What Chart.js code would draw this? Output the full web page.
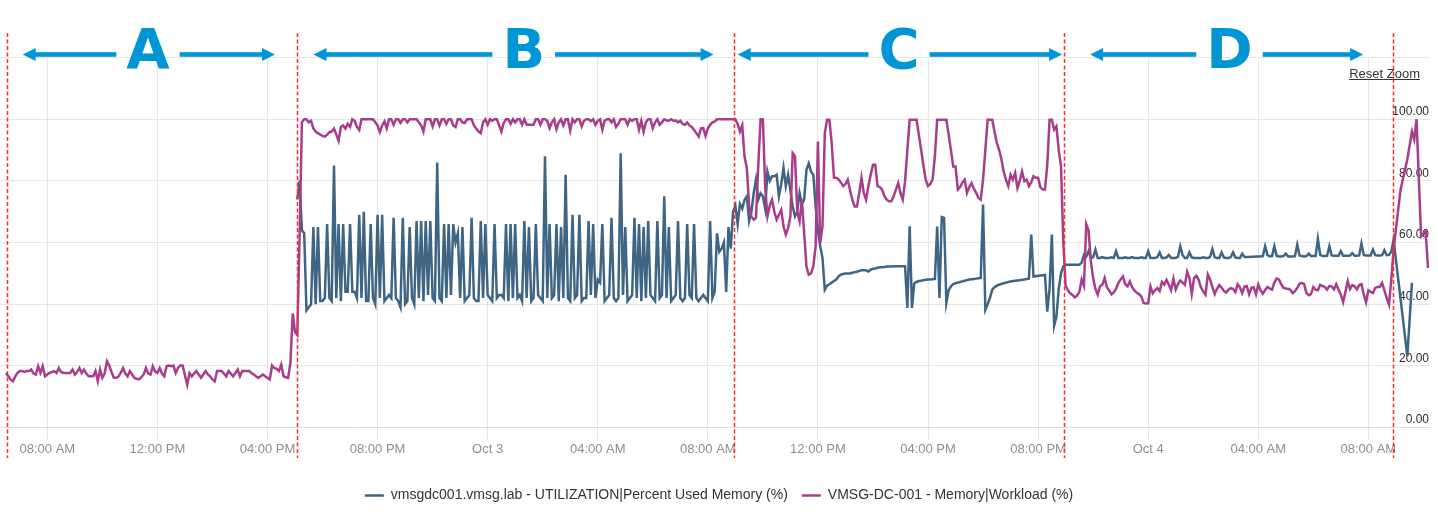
<!DOCTYPE html>
<html>
<head>
<meta charset="utf-8">
<script src="https://cdn.jsdelivr.net/npm/chart.js@4.4.1/dist/chart.umd.min.js"></script>
<style>
  html, body { margin: 0; padding: 0; background: #ffffff; }
  #wrap { width: 1438px; height: 515px; position: relative; }
</style>
</head>
<body>
<div id="wrap"><canvas id="c" width="1438" height="515"></canvas></div>
<script>
// ---------- time grid (hours since Oct 2, 00:00), 5-minute samples ----------
const STEP_H = 5 / 60;

// x-axis ticks
const tickHours  = [8, 12, 16, 20, 24, 28, 32, 36, 40, 44, 48, 52, 56];
const tickLabels = ['08:00 AM', '12:00 PM', '04:00 PM', '08:00 PM', 'Oct 3', '04:00 AM', '08:00 AM',
                    '12:00 PM', '04:00 PM', '08:00 PM', 'Oct 4', '04:00 AM', '08:00 AM'];
const yTicks = [0, 20, 40, 60, 80, 100, 120];

// section annotations (hours)
const sectionLetters  = ['A', 'B', 'C', 'D'];
const sectionBounds   = [6.525, 17.055, 32.953, 44.944, 56.91];
const arrowLeftTips   = [7.106, 17.669, 33.084, 45.889];
const arrowRightTips  = [16.274, 32.208, 44.871, 55.81];
const letterCenters   = [11.659, 25.311, 38.948, 50.954];

// ---------- VMSG-DC-001 - Memory|Workload (%) ----------
const memAStart = 6.5;             // Oct 2 06:30
const memA = [
17.7,16.6,15.6,15.0,16.5,17.7,18.3,18.3,18.0,18.3,
18.3,18.8,17.5,17.2,19.9,17.7,19.9,16.6,17.2,17.7,
18.0,18.3,17.7,19.3,18.0,17.7,17.7,17.7,17.7,18.8,
17.2,18.0,19.3,17.7,18.8,17.5,16.6,16.6,16.6,18.3,
15.0,18.8,16.1,17.5,21.5,20.1,18.0,16.1,16.1,16.5,
17.7,19.3,17.5,16.6,18.3,17.2,16.1,15.8,15.6,16.3,
17.2,19.3,17.5,17.2,19.9,18.2,17.7,19.3,17.5,16.6,
19.9,20.1,19.9,20.1,17.7,19.3,20.1,20.1,17.0,13.9,
17.7,16.6,17.5,18.3,17.2,16.1,17.2,18.3,17.2,16.6,
15.6,15.0,18.3,18.3,18.3,17.5,16.6,18.3,17.5,16.6,
17.7,18.8,16.6,18.3,18.3,18.3,18.3,17.7,17.2,16.6,
16.1,16.6,17.2,16.6,16.1,15.6,20.1,19.3,19.0,18.3,
20.4,16.6,16.3,16.1,21.0,37.0,31.0];

const memBStart = 17 + 5 / 60;     // Oct 2 17:05
const memB = [
30,62,99,100,100,99,99.5,97,96,95.5,
95,94.6,94.4,95,95.8,96,97,95,93,97.5,
98,97,98.5,97.5,100,99.5,97.5,96.5,100,100,
100,100,100,100,99,98,95.8,98,99.3,97,
100,100,98.2,100,100,98.8,100,100,99,100,
100,100,100,99,98,96,100,100,100,97.7,
100,100,98,100,100,98.5,100,100,98,97.5,
100,100,99,98.8,100,100,100,98,97,96,
95.5,99,100,98.2,100,99.5,100,100,98,96,
98.8,100,100,98.5,100,99,100,100,98.2,100,
98.2,98.2,98.2,98.2,100,100,98.2,100,100,99.5,
97.1,99,100,96.8,99,100,98,100,100,96.3,
100,99,100,100,97.7,99.5,100,100,99.4,100,
98.2,99.5,100,96.6,99.5,100,100,99,100,97.5,
98.5,100,100,100,98.2,100,99.5,100,100,96.6,
99.5,95.9,99,100,100,97.1,99,100,98.2,99,
100,99.6,99.5,100,99.5,99.6,99,99.5,98.5,98.2,
99,98,97.5,96.5,95.5,94.4,97,97.1,94.6,97,
98.2,99,99.3,100,100,100,100,100,100,100,
100];

const memCStart = 33;              // Oct 3 09:00
const memC = [
100,98.5,96,98,87.9,84.2,72,68.5,67.4,68,
85,100,100,78,68.5,72,73.9,70,67.4,69,
70.6,65.3,62.6,64.7,68.5,89,88,70,66.9,73.9,
63.1,52.3,49.6,50,52.3,58.8,92.8,59.9,65.3,95.5,
99.8,99.8,92.3,81,81,80.5,79.5,78.3,79,80.4,
77,73.9,71.7,71.7,76,81,76,73.9,78.3,82,
85.2,85.2,78.3,78,77.2,75,73.9,73.4,73.4,75,
77.2,79.3,76,73.9,79.9,90,99.8,99.8,99.8,99.8,
95,90.1,85,80.4,78.3,79,80.4,88,99.8,99.8,
99.8,99.8,99.8,95,90,84.7,84.7,77.2,78,79.5,
80.4,76.1,78,79.3,77.5,76.1,74.5,73.9,80.4,90,
99.8,99.8,99.8,96,92.3,90.1,87,83,80.4,78.3,
82,80.4,82.6,77.7,80,83.1,79.9,80.4,78.3,79.5,
81.5,81,81,78,77.2,77.2,85.2,99.8,99.8,96.6,
97.7,90,84.7,60];

const memDStart = 45;              // Oct 3 21:00
const memD = [
46,44.5,43.5,43,42.2,42.8,44,48,46,66,
64,54,48.5,45,43.1,45.8,46.3,48.5,45.5,44.5,
43.2,43.8,45,46.9,48,49,46.5,45.8,47.4,45.5,
44.5,43.7,43.3,42.5,40.4,40.2,40.3,45.8,43.5,44.5,
45.2,44.3,47.2,46.3,47.9,46.3,44.6,48.3,44.8,46.5,
47.7,47,46.3,50.5,48.5,43.3,48.5,49.2,47.9,45.5,
44.2,43.1,49.6,48,45.5,43.3,45,46.2,45.4,44.3,
43.8,44.7,45.2,45,43.9,46.5,45.5,43.6,45.7,45.9,
43.2,45.3,45.5,43.2,46.4,44.5,43.4,44.6,45.6,45.1,
44.7,47,48.3,48,46.5,45.3,45.1,45,44.7,43.6,
44.2,45.3,46.6,46.9,46.5,43.6,42.9,43.3,45.6,44.7,
44.5,46.3,45.9,45.6,44.7,45.9,45.8,44.8,46.5,44.8,
43.1,40.7,44,47.5,44.9,46.2,45.8,44.8,46.2,46.5,
43.1,40.6,44.5,44,43.6,45.3,45.6,45.6,46.9,44.5,
42,39.9,48];

const memEStart = 56 + 55 / 60;    // Oct 4 08:55
const memE = [57.7,null,null,77,null,null,87,null,96,93.4,100,null,62,null,63.6,51.8];

// ---------- vmsgdc001.vmsg.lab - UTILIZATION|Percent Used Memory (%) ----------
const utilBStart = 17 + 5 / 60;    // Oct 2 17:05
const utilB = [
74,80,64,63,38,39,40,65,40,65,
41,41,42,66,42,41,85,42,66,41,
66,44,44,66,44,44,42,69,42,70,
41,41,66,42,40,69,42,69,41,42,
43,42,68,42,41,39,68,40,41,65,
42,40,67,42,67,41,67,43,67,42,
41,86,42,41,66,42,66,43,66,60,
63,42,65,41,42,43,68,42,41,41,
67,42,66,43,42,41,66,42,43,43,
42,66,41,66,42,66,42,43,41,67,
42,65,41,42,66,43,42,41,88,42,
66,42,43,66,41,65,42,82,42,41,
69,42,43,69,41,42,42,67,43,66,
42,48,47,66,41,42,43,68,42,41,
42,89,43,65,41,42,43,68,42,66,
41,65,42,67,43,42,41,67,42,43,
75,42,65,41,42,43,67,42,41,42,
66,43,42,66,42,41,42,43,42,41,
67,42,44,63,57,58,60,44,65,58,
70];

const utilCStart = 33;             // Oct 3 09:00
const utilC = [
72,66,72.5,71,73.9,75,67,70,76,80.4,
74,76,75,71,83,80,81.5,81.5,82,75,
79,84.2,78.3,82,77,71.7,68.5,70,76.1,72.5,
73.9,83.6,85.7,83,82,71.7,64,58.8,55,44.7,
46,46.5,47,47.5,48,49,49.6,49.8,50,50,
50,50.2,50.4,50.5,50.8,51,51,51,50.6,51.2,
51.5,51.6,51.8,52,52,52.1,52.2,52.2,52.2,52.3,
52.3,52.3,52.3,52.3,52.3,38.8,65.3,38.8,46.8,47.2,
47.5,47.6,47.8,47.9,48,48,48.1,48.2,65.2,42,
68.3,68,40.4,44.5,45.8,46.5,46.8,47,47.2,47.4,
47.6,47.8,48,48.1,48.2,48.3,48.4,48.5,72.3,38.2,
40,42,44.7,45.5,46,46.3,46.6,46.8,47,47.2,
47.4,47.5,47.6,47.7,47.8,47.9,48,48.2,48.3,62.6,
49,49.1,49.2,49.3,49.4,49.5,37.6,45,62.6,33,
36,45,50,52.3];

const utilDStart = 45;             // Oct 3 21:00
const utilD = [
52.8,52.8,52.8,52.8,52.8,52.8,52.8,53.5,56.1,55.5,
57.2,55,55.2,57.7,55,55,55.3,55,55,55,
55.2,55,57.2,55,55,55,55.2,55,55,55.3,
55,55,55,55.2,55,55,57.2,55,55,55,
55.3,56.8,55,55,55.2,56,55,55,55,55.4,
58.8,56,55,55,56.8,55.2,55,55,55,55,
55.2,55,55,55.3,57.9,55.2,55,55,56.8,55.2,
55,55,55.3,56.8,55.2,55,55,56.4,55.3,55.3,
55.3,55.4,55.4,55.5,55.5,55.5,55.6,58.8,56,55.5,
55.6,58.8,55.7,55.5,55.5,55.6,56.4,55.5,55.5,55.5,
55.6,59.3,55.8,55.6,55.5,55.6,56.4,55.6,55.6,55.6,
61.2,56,55.6,55.6,55.7,58.8,55.8,55.7,55.7,55.7,
57.2,55.7,55.7,55.7,55.8,56.6,55.7,55.7,55.8,59.7,
56,55.8,55.8,55.8,57.7,55.9,55.8,55.8,55.9,57.5,
55.9,56,57];

const utilEStart = 56 + 55 / 60;   // Oct 4 08:55
const utilE = [60.9,null,null,null,null,null,23.1,null,46.9];

// ---------- build ----------
function toPoints(start, values) {
  return values.map((v, k) => ({ x: start + k * STEP_H, y: v }));
}
const memPoints = [].concat(
  toPoints(memAStart, memA), toPoints(memBStart, memB), toPoints(memCStart, memC),
  toPoints(memDStart, memD), toPoints(memEStart, memE));
const utilPoints = [].concat(
  toPoints(utilBStart, utilB), toPoints(utilCStart, utilC),
  toPoints(utilDStart, utilD), toPoints(utilEStart, utilE));

const BLUE = '#3e6584';
const MAGENTA = '#a83d8c';
const ANNOT_BLUE = '#0096d6';

const sectionPlugin = {
  id: 'sections',
  afterDraw(chart) {
    const { ctx } = chart;
    const x = chart.scales.x;
    ctx.save();
    // red dashed section boundaries
    ctx.strokeStyle = '#ff2b2b';
    ctx.lineWidth = 1.5;
    ctx.setLineDash([4, 2.5]);
    sectionBounds.forEach(h => {
      const px = Math.round(x.getPixelForValue(h)) + 0.5;
      ctx.beginPath();
      ctx.moveTo(px, 33);
      ctx.lineTo(px, 458);
      ctx.stroke();
    });
    ctx.setLineDash([]);
    // arrows + letters
    const ay = 54.5, head = 13, halfH = 6.5, gap = 10;
    ctx.fillStyle = ANNOT_BLUE;
    ctx.font = 'bold 56px "DejaVu Sans", sans-serif';
    ctx.textAlign = 'center';
    ctx.textBaseline = 'alphabetic';
    sectionLetters.forEach((L, i) => {
      const lx = x.getPixelForValue(arrowLeftTips[i]);
      const rx = x.getPixelForValue(arrowRightTips[i]);
      const cx = x.getPixelForValue(letterCenters[i]);
      const w = ctx.measureText(L).width;
      ctx.fillRect(lx + head - 1, ay - 2.3, (cx - w / 2 - gap) - (lx + head - 1), 4.6);
      ctx.fillRect(cx + w / 2 + gap, ay - 2.3, (rx - head + 1) - (cx + w / 2 + gap), 4.6);
      ctx.beginPath();
      ctx.moveTo(lx, ay); ctx.lineTo(lx + head, ay - halfH); ctx.lineTo(lx + head, ay + halfH); ctx.closePath();
      ctx.fill();
      ctx.beginPath();
      ctx.moveTo(rx, ay); ctx.lineTo(rx - head, ay - halfH); ctx.lineTo(rx - head, ay + halfH); ctx.closePath();
      ctx.fill();
      ctx.fillText(L, cx, 68);
    });
    // Reset Zoom
    ctx.font = '13px "Liberation Sans", Arial, sans-serif';
    ctx.fillStyle = '#333333';
    ctx.textAlign = 'right';
    const tw = ctx.measureText('Reset Zoom').width;
    ctx.fillText('Reset Zoom', 1420, 77.5);
    ctx.fillRect(1420 - tw, 79, tw, 1);
    ctx.restore();
  }
};

Chart.defaults.font.family = '"Liberation Sans", Arial, sans-serif';

new Chart(document.getElementById('c'), {
  type: 'line',
  data: {
    datasets: [
      {
        label: 'vmsgdc001.vmsg.lab - UTILIZATION|Percent Used Memory (%)',
        data: utilPoints,
        borderColor: BLUE,
        backgroundColor: BLUE,
        borderWidth: 2.5,
        pointRadius: 0,
        tension: 0,
        spanGaps: true,
        order: 1
      },
      {
        label: 'VMSG-DC-001 - Memory|Workload (%)',
        data: memPoints,
        borderColor: MAGENTA,
        backgroundColor: MAGENTA,
        borderWidth: 2.5,
        pointRadius: 0,
        tension: 0,
        spanGaps: true,
        order: 0
      }
    ]
  },
  options: {
    responsive: false,
    animation: false,
    devicePixelRatio: 1,
    layout: { padding: { left: 0, right: 0, top: 57.6, bottom: 2.5 } },
    plugins: {
      tooltip: { enabled: false },
      legend: {
        position: 'bottom',
        labels: {
          usePointStyle: true,
          pointStyle: 'line',
          pointStyleWidth: 19,
          padding: 14,
          color: '#333333',
          font: { size: 14 },
          sort: (a, b) => a.datasetIndex - b.datasetIndex
        }
      }
    },
    scales: {
      x: {
        type: 'linear',
        min: 6.281,
        max: 58.24,
        afterBuildTicks: s => { s.ticks = tickHours.map(v => ({ value: v })); },
        afterFit: s => { s.height = 47; },
        ticks: {
          autoSkip: false,
          maxRotation: 0,
          padding: 2,
          color: '#8e8e8e',
          font: { size: 13 },
          callback: v => tickLabels[tickHours.indexOf(v)]
        },
        grid: { color: '#e6e6e6', tickLength: 12, drawTicks: true },
        border: { color: '#dcdfe3' }
      },
      y: {
        position: 'right',
        min: 0,
        max: 120,
        afterBuildTicks: s => { s.ticks = yTicks.map(v => ({ value: v })); },
        afterFit: s => { s.width = 8; },
        ticks: {
          mirror: true,
          padding: -1,
          labelOffset: -7.5,
          color: '#2e2e2e',
          font: { size: 12 },
          callback: v => (v === 120 ? '' : v.toFixed(2))
        },
        grid: { color: '#e6e6e6', drawTicks: false },
        border: { display: false }
      }
    }
  },
  plugins: [sectionPlugin]
});
</script>
</body>
</html>
